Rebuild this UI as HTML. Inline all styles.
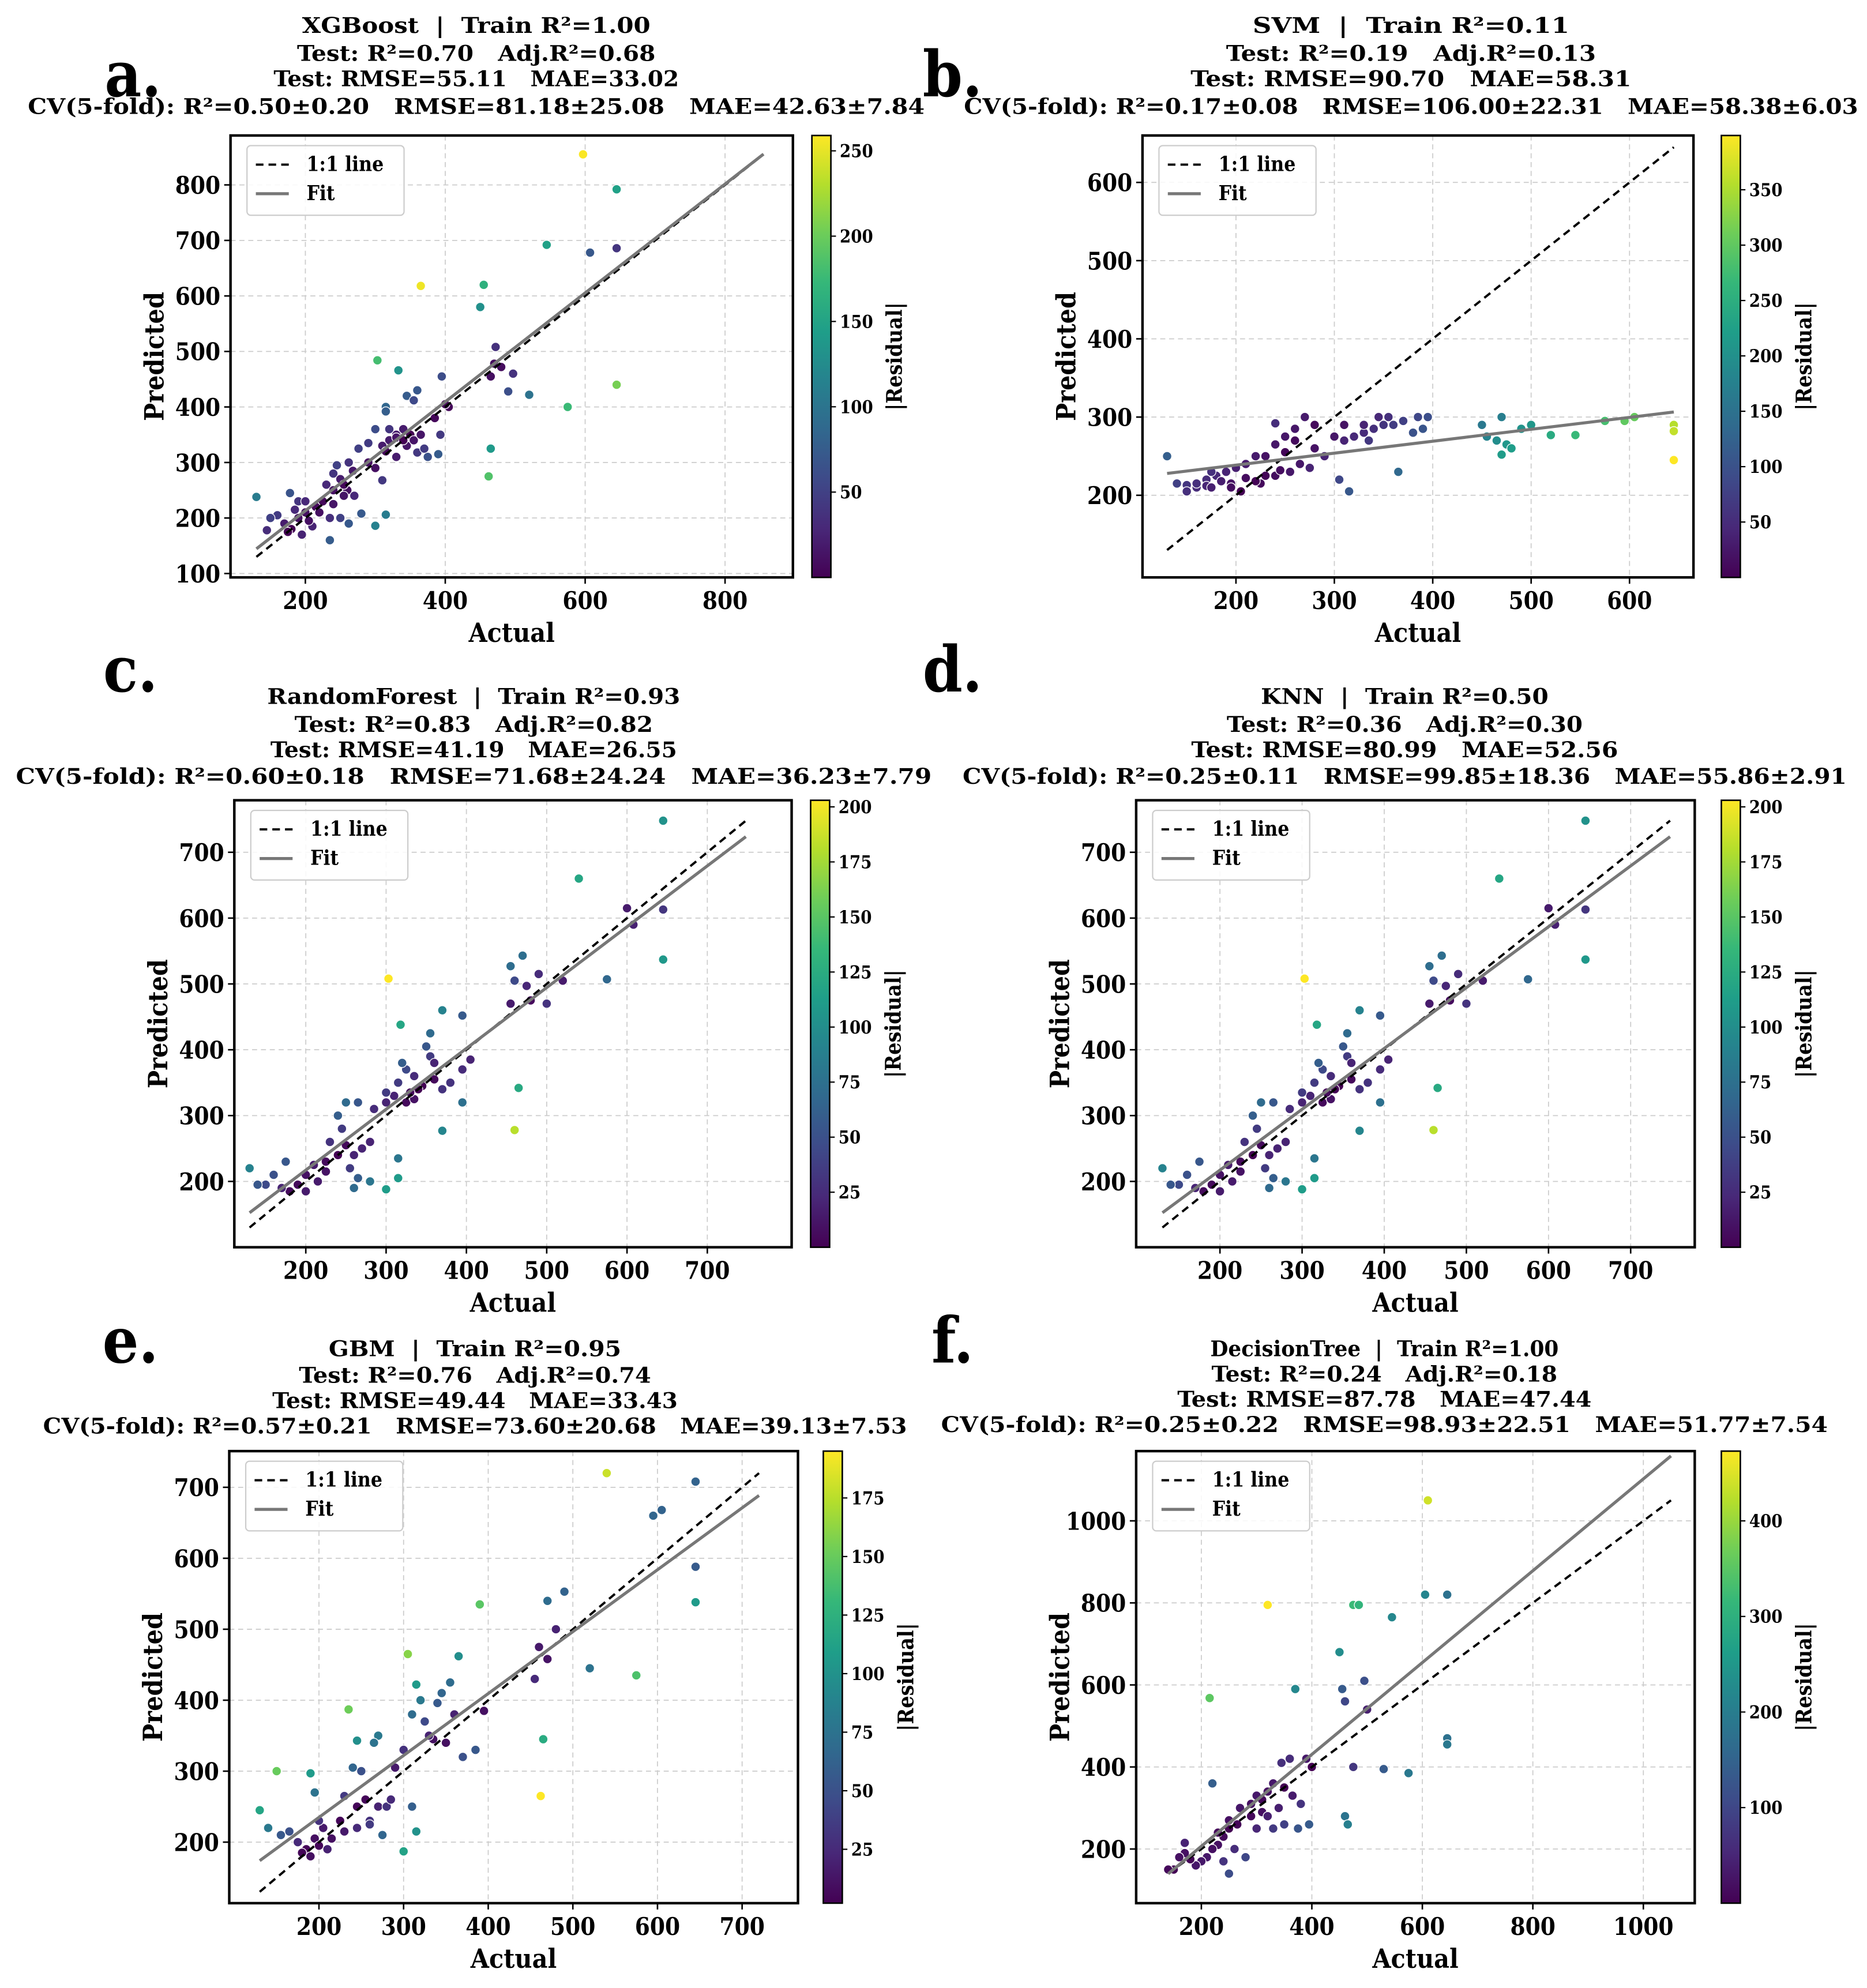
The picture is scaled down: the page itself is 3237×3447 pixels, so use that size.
<!DOCTYPE html>
<html><head><meta charset="utf-8">
<style>
html,body{margin:0;padding:0;background:#fff;}
svg{display:block;}
text{font-family:"DejaVu Serif Condensed","DejaVu Serif","Liberation Serif",serif;font-weight:bold;white-space:pre;}
</style></head>
<body>
<svg id="fig" width="3237" height="3447" viewBox="0 0 1474 1570" preserveAspectRatio="none" xmlns="http://www.w3.org/2000/svg" xml:space="preserve"></svg>
<script>
// ---- data (actual, predicted) per panel ----
const ptsA=[[597,855],[645,792],[545,692],[607,678],[645,686],[365,618],[455,620],[450,580],[303,484],[333,466],[395,455],[360,430],[345,420],[355,412],[315,400],[315,392],[472,508],[470,478],[480,472],[465,455],[497,460],[490,428],[520,422],[575,400],[645,440],[465,325],[462,275],[405,400],[400,405],[385,380],[375,310],[390,315],[360,318],[370,325],[393,350],[350,350],[340,360],[330,350],[320,340],[310,330],[300,360],[290,335],[300,290],[310,268],[330,310],[345,330],[355,340],[320,360],[276,325],[262,300],[245,295],[240,280],[230,260],[250,270],[260,250],[255,240],[270,240],[240,225],[225,230],[215,220],[200,210],[190,200],[180,180],[170,190],[160,205],[150,200],[145,178],[130,238],[178,245],[190,230],[195,170],[210,185],[220,210],[235,160],[235,200],[250,200],[262,190],[280,208],[300,186],[315,206],[290,300],[268,285],[200,230],[185,215],[175,175],[205,195],[240,250],[255,260],[330,345],[340,340],[315,320],[365,350]];
const ptsB=[[645,245],[645,290],[645,282],[605,300],[595,295],[575,295],[545,277],[520,277],[500,290],[490,285],[470,300],[475,265],[465,270],[455,275],[450,290],[480,260],[470,252],[395,300],[390,285],[380,280],[365,230],[355,300],[350,290],[340,285],[330,280],[320,275],[310,270],[300,275],[310,290],[305,220],[315,205],[270,300],[280,290],[260,285],[250,275],[240,265],[230,250],[220,250],[210,240],[200,235],[190,230],[180,225],[170,220],[160,210],[150,213],[140,215],[130,250],[175,230],[195,215],[205,205],[225,215],[240,225],[255,230],[265,240],[275,235],[240,292],[260,270],[250,255],[360,290],[345,300],[280,260],[290,250],[330,290],[335,270],[385,300],[370,295],[150,205],[160,215],[170,212],[185,218],[195,210],[210,222],[220,218],[230,225],[245,232],[175,210]];
const ptsC=[[645,748],[540,660],[600,615],[645,613],[608,590],[575,507],[645,537],[303,508],[470,543],[455,527],[460,505],[475,497],[490,515],[520,505],[500,470],[480,475],[455,470],[465,342],[460,278],[395,452],[370,460],[318,438],[355,425],[350,405],[355,390],[360,380],[405,385],[395,370],[380,350],[370,340],[345,345],[335,360],[325,370],[320,380],[310,330],[300,335],[315,350],[325,320],[335,325],[395,320],[370,277],[315,235],[315,205],[300,188],[280,200],[260,190],[265,205],[240,300],[250,320],[265,320],[245,280],[230,260],[250,255],[270,250],[260,240],[240,240],[225,230],[210,225],[200,210],[190,195],[180,185],[170,190],[160,210],[150,195],[140,195],[130,220],[175,230],[200,185],[215,200],[225,215],[280,260],[255,220],[300,320],[285,310],[340,340],[360,355],[330,335]];
const ptsD=[[645,748],[540,660],[600,615],[645,613],[608,590],[575,507],[645,537],[303,508],[470,543],[455,527],[460,505],[475,497],[490,515],[520,505],[500,470],[480,475],[455,470],[465,342],[460,278],[395,452],[370,460],[318,438],[355,425],[350,405],[355,390],[360,380],[405,385],[395,370],[380,350],[370,340],[345,345],[335,360],[325,370],[320,380],[310,330],[300,335],[315,350],[325,320],[335,325],[395,320],[370,277],[315,235],[315,205],[300,188],[280,200],[260,190],[265,205],[240,300],[250,320],[265,320],[245,280],[230,260],[250,255],[270,250],[260,240],[240,240],[225,230],[210,225],[200,210],[190,195],[180,185],[170,190],[160,210],[150,195],[140,195],[130,220],[175,230],[200,185],[215,200],[225,215],[280,260],[255,220],[300,320],[285,310],[340,340],[360,355],[330,335]];
const ptsE=[[540,720],[645,708],[605,668],[595,660],[645,588],[645,538],[575,435],[520,445],[490,553],[470,540],[480,500],[460,475],[455,430],[470,458],[390,535],[305,465],[365,462],[355,425],[345,410],[340,396],[315,422],[320,400],[310,380],[325,370],[360,380],[395,385],[385,330],[370,320],[350,340],[335,345],[330,350],[300,330],[290,305],[310,250],[315,215],[300,187],[465,345],[462,265],[235,387],[270,350],[265,340],[245,343],[250,300],[240,305],[230,265],[255,260],[270,250],[260,230],[245,220],[225,230],[205,220],[195,205],[185,190],[175,200],[165,215],[150,300],[190,297],[195,270],[200,230],[155,210],[130,245],[140,220],[210,190],[230,215],[260,225],[275,210],[280,250],[285,260],[245,250],[180,185],[190,180],[200,195],[215,205]];
const ptsF=[[610,1050],[320,795],[475,795],[485,795],[215,568],[545,765],[605,820],[645,820],[450,680],[370,590],[455,590],[460,560],[495,610],[500,540],[645,470],[645,455],[575,385],[530,395],[460,280],[465,260],[475,400],[400,400],[360,420],[345,410],[330,360],[320,340],[310,320],[300,330],[290,310],[340,300],[365,330],[380,310],[395,260],[375,250],[350,260],[330,250],[310,290],[290,280],[265,260],[250,250],[240,230],[230,210],[220,200],[210,180],[200,170],[190,160],[180,175],[170,190],[160,180],[150,150],[140,150],[170,215],[220,360],[250,270],[270,300],[260,200],[280,180],[250,140],[240,170],[230,240],[300,250],[320,280],[390,420],[350,350]];
const titlesA=["XGBoost  |  Train R²=1.00","Test: R²=0.70   Adj.R²=0.68","Test: RMSE=55.11   MAE=33.02","CV(5-fold): R²=0.50±0.20   RMSE=81.18±25.08   MAE=42.63±7.84"];
const titlesB=["SVM  |  Train R²=0.11","Test: R²=0.19   Adj.R²=0.13","Test: RMSE=90.70   MAE=58.31","CV(5-fold): R²=0.17±0.08   RMSE=106.00±22.31   MAE=58.38±6.03"];
const titlesC=["RandomForest  |  Train R²=0.93","Test: R²=0.83   Adj.R²=0.82","Test: RMSE=41.19   MAE=26.55","CV(5-fold): R²=0.60±0.18   RMSE=71.68±24.24   MAE=36.23±7.79"];
const titlesD=["KNN  |  Train R²=0.50","Test: R²=0.36   Adj.R²=0.30","Test: RMSE=80.99   MAE=52.56","CV(5-fold): R²=0.25±0.11   RMSE=99.85±18.36   MAE=55.86±2.91"];
const titlesE=["GBM  |  Train R²=0.95","Test: R²=0.76   Adj.R²=0.74","Test: RMSE=49.44   MAE=33.43","CV(5-fold): R²=0.57±0.21   RMSE=73.60±20.68   MAE=39.13±7.53"];
const titlesF=["DecisionTree  |  Train R²=1.00","Test: R²=0.24   Adj.R²=0.18","Test: RMSE=87.78   MAE=47.44","CV(5-fold): R²=0.25±0.22   RMSE=98.93±22.51   MAE=51.77±7.54"];
const xTicksA=[200,400,600,800], yTicksA=[100,200,300,400,500,600,700,800], cTicksA=[50,100,150,200,250];
const xTicksB=[200,300,400,500,600], yTicksB=[200,300,400,500,600], cTicksB=[50,100,150,200,250,300,350];
const xTicksC=[200,300,400,500,600,700], yTicksC=[200,300,400,500,600,700], cTicksC=[25,50,75,100,125,150,175,200];
const xTicksE=[200,300,400,500,600,700], yTicksE=[200,300,400,500,600,700], cTicksE=[25,50,75,100,125,150,175];
const xTicksF=[200,400,600,800,1000], yTicksF=[200,400,600,800,1000], cTicksF=[100,200,300,400];

// layout (display units)
const panels=[
 {id:'a',pts:ptsA,t:titlesA,xt:xTicksA,yt:yTicksA,ct:cTicksA,box:[182,107,626,456],xd:[93,897],yd:[93,889],cd:[0,259],cb:641,tc:376,ty:[20,42,62,84],lab:[105,60],tw:[275,283,320,708]},
 {id:'b',pts:ptsB,t:titlesB,xt:xTicksB,yt:yTicksB,ct:cTicksB,box:[902,107,1337,456],xd:[105,665],yd:[95,660],cd:[0,399],cb:1359,tc:1114,ty:[20,42,62,84],lab:[752,60],tw:[250,292,348,706]},
 {id:'c',pts:ptsC,t:titlesC,xt:xTicksC,yt:yTicksC,ct:cTicksC,box:[185,632,625,985],xd:[111,805],yd:[100,779],cd:[0,203],cb:640,tc:374,ty:[550,572,592,613],lab:[103,530],tw:[326,283,321,723]},
 {id:'d',pts:ptsD,t:titlesD,xt:xTicksC,yt:yTicksC,ct:cTicksC,box:[897,632,1338,985],xd:[98,778],yd:[100,779],cd:[0,203],cb:1359,tc:1109,ty:[550,572,592,613],lab:[752,530],tw:[227,281,337,698]},
 {id:'e',pts:ptsE,t:titlesE,xt:xTicksE,yt:yTicksE,ct:cTicksE,box:[181,1146,630,1503],xd:[94,766],yd:[114,751],cd:[2,195],cb:650,tc:375,ty:[1065,1086,1106,1126],lab:[103,1060],tw:[231,278,320,682]},
 {id:'f',pts:ptsF,t:titlesF,xt:xTicksF,yt:yTicksF,ct:cTicksF,box:[897,1146,1338,1503],xd:[82,1093],yd:[68,1170],cd:[0,473],cb:1359,tc:1093,ty:[1065,1085,1105,1125],lab:[752,1060],tw:[275,273,327,700]}
];
const NS='http://www.w3.org/2000/svg';
const svg=document.getElementById('fig');
function mk(tag,attrs,parent,txt){const e=document.createElementNS(NS,tag);for(const k in attrs)e.setAttribute(k,attrs[k]);if(txt!==undefined)e.textContent=txt;(parent||svg).appendChild(e);return e;}
const vir=[[68,1,84],[72,40,120],[62,74,137],[49,104,142],[38,130,142],[31,158,137],[53,183,121],[109,205,89],[180,222,44],[253,231,37]];
function viridis(t){t=Math.max(0,Math.min(1,t));const s=t*(vir.length-1),i=Math.min(vir.length-2,Math.floor(s)),f=s-i;const c=vir[i].map((v,k)=>Math.round(v+(vir[i+1][k]-v)*f));return `rgb(${c[0]},${c[1]},${c[2]})`;}
panels.forEach(p=>{
 const g=mk('g',{});
 
 
 const [x0,y0,x1,y1]=p.box;
 const sx=v=>x0+(v-p.xd[0])/(p.xd[1]-p.xd[0])*(x1-x0);
 const sy=v=>y1-(v-p.yd[0])/(p.yd[1]-p.yd[0])*(y1-y0);
 const L=mk('text',{x:p.lab[0],y:p.lab[1]+16,'font-size':50,'text-anchor':'middle','font-family':'DejaVu Serif'},g,p.id+'.');
 
 
 p.t.forEach((s,i)=>{const t=mk('text',{x:p.tc,y:p.ty[i]+6,'font-size':17,'text-anchor':'middle',textLength:p.tw[i],lengthAdjust:'spacingAndGlyphs'},g,s);
  
  });
 p.xt.forEach(v=>{const l=mk('line',{x1:sx(v),x2:sx(v),y1:y0,y2:y1,stroke:'#ccc','stroke-width':0.8,'stroke-dasharray':'4,3'},g);
  
  
  mk('line',{x1:sx(v),x2:sx(v),y1:y1,y2:y1+5,stroke:'#000','stroke-width':1.2},g);
  const t=mk('text',{x:sx(v),y:y1+25,'font-size':19,'text-anchor':'middle'},g,v);
  
  });
 p.yt.forEach(v=>{const l=mk('line',{x1:x0,x2:x1,y1:sy(v),y2:sy(v),stroke:'#ccc','stroke-width':0.8,'stroke-dasharray':'4,3'},g);
  
  
  mk('line',{x1:x0-5,x2:x0,y1:sy(v),y2:sy(v),stroke:'#000','stroke-width':1.2},g);
  const t=mk('text',{x:x0-8,y:sy(v)+7,'font-size':19,'text-anchor':'end'},g,v);
  
  });
 let lo=Infinity,hi=-Infinity;p.pts.forEach(q=>{lo=Math.min(lo,q[0],q[1]);hi=Math.max(hi,q[0],q[1]);});
 let n=p.pts.length,mx=0,my=0;p.pts.forEach(q=>{mx+=q[0];my+=q[1];});mx/=n;my/=n;
 let sxy=0,sxx=0;p.pts.forEach(q=>{sxy+=(q[0]-mx)*(q[1]-my);sxx+=(q[0]-mx)**2;});
 const slope=sxy/sxx,inter=my-slope*mx;
 p.pts.forEach(q=>{const r=Math.abs(q[0]-q[1]);const c=mk('circle',{cx:sx(q[0]),cy:sy(q[1]),r:3.6,fill:viridis((r-p.cd[0])/(p.cd[1]-p.cd[0])),stroke:'#fff','stroke-width':0.6},g);
  
  });
 const d=mk('line',{x1:sx(lo),y1:sy(lo),x2:sx(hi),y2:sy(hi),stroke:'#000','stroke-width':1.8,'stroke-dasharray':'6,4'},g);
 
 
 const fl=mk('line',{x1:sx(lo),y1:sy(slope*lo+inter),x2:sx(hi),y2:sy(slope*hi+inter),stroke:'#777','stroke-width':2.4},g);
 
 
 const fr=mk('rect',{x:x0,y:y0,width:x1-x0,height:y1-y0,fill:'none',stroke:'#000','stroke-width':2},g);
 
 
 const lg=mk('g',{},g);
 
 
 mk('rect',{x:x0+13,y:y0+8,width:124,height:55,rx:3,fill:'#fff','fill-opacity':0.85,stroke:'#ccc','stroke-width':1},lg);
 mk('line',{x1:x0+20,x2:x0+46,y1:y0+23,y2:y0+23,stroke:'#000','stroke-width':1.8,'stroke-dasharray':'6,4'},lg);
 mk('line',{x1:x0+20,x2:x0+46,y1:y0+46,y2:y0+46,stroke:'#777','stroke-width':2.4},lg);
 mk('text',{x:x0+60,y:y0+28,'font-size':16},lg,'1:1 line');
 mk('text',{x:x0+60,y:y0+51,'font-size':16},lg,'Fit');
 const xl=mk('text',{x:(x0+x1)/2,y:y1+51,'font-size':21,'text-anchor':'middle','font-family':'DejaVu Serif'},g,'Actual');
 
 
 const ym=(y0+y1)/2;
 const yl=mk('text',{x:x0-53,y:ym,'font-size':21,'text-anchor':'middle','font-family':'DejaVu Serif',transform:`rotate(-90 ${x0-53} ${ym})`},g,'Predicted');
 
 
 const gid='grad'+p.id;const defs=mk('defs',{},g);const gr=mk('linearGradient',{id:gid,x1:0,y1:1,x2:0,y2:0},defs);
 for(let i=0;i<vir.length;i++)mk('stop',{offset:i/(vir.length-1),'stop-color':viridis(i/(vir.length-1))},gr);
 const cw=15;
 const cbr=mk('rect',{x:p.cb,y:y0,width:cw,height:y1-y0,fill:`url(#${gid})`,stroke:'#000','stroke-width':1.2},g);
 
 
 const cy=v=>y1-(v-p.cd[0])/(p.cd[1]-p.cd[0])*(y1-y0);
 p.ct.forEach(v=>{mk('line',{x1:p.cb+cw,x2:p.cb+cw+4,y1:cy(v),y2:cy(v),stroke:'#000','stroke-width':1},g);
  const t=mk('text',{x:p.cb+cw+7,y:cy(v)+5,'font-size':14},g,v);
  
  });
 const cxp=p.cb+cw+56;
 const ct=mk('text',{x:cxp,y:ym,'font-size':17,'text-anchor':'middle','font-family':'DejaVu Serif',transform:`rotate(-90 ${cxp} ${ym})`},g,'|Residual|');
 
 
});
</script>
</body></html>
